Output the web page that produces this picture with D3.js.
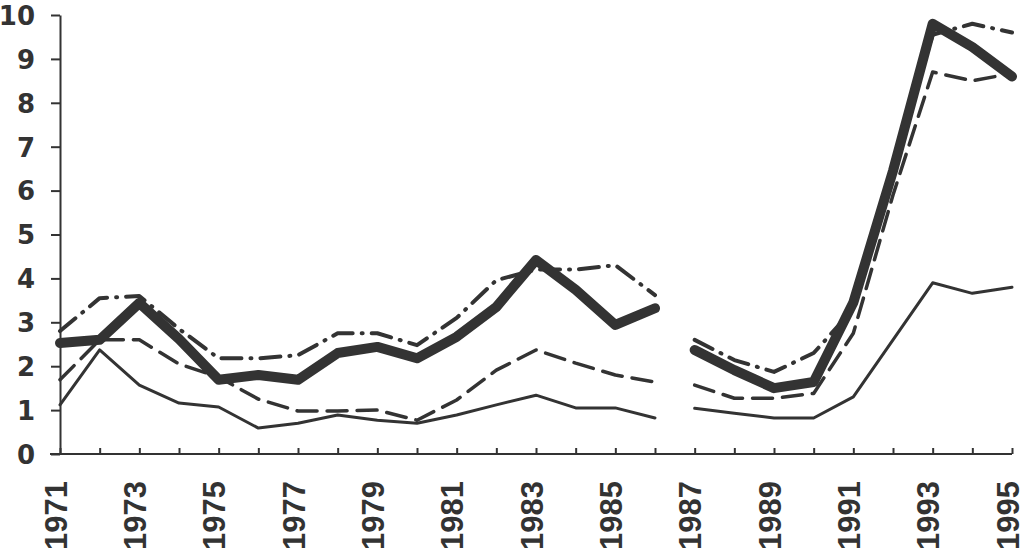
<!DOCTYPE html>
<html>
  <head>
    <meta charset='utf-8'>
    <script src='https://d3js.org/d3.v7.min.js'></script>
    <style type='text/css'>
      body { margin: 0; background: #fff; }
      .yaxis text { font: bold 26px 'DejaVu Sans', sans-serif; fill: #333; }
      .xaxis text { font: bold 31px 'Liberation Sans', Arial, sans-serif; fill: #333; }
      .axis path, .axis line { stroke: #333; stroke-width: 2; }
      .series { fill: none; stroke: #333; stroke-linejoin: round; }
    </style>
  </head>
  <body>
    <script type='text/javascript'>
      // data; the lines break between 1986 and 1987
      var years = [1971, 1972, 1973, 1974, 1975, 1976, 1977, 1978, 1979, 1980, 1981, 1982, 1983,
                   1984, 1985, 1986, 1987, 1988, 1989, 1990, 1991, 1992, 1993, 1994, 1995],
        breakAfter = 1986;

      var thickSolid = [2.53, 2.6, 3.44, 2.62, 1.69, 1.8, 1.69, 2.3, 2.44, 2.18, 2.67, 3.35, 4.42,
                        3.74, 2.94, 3.32, 2.37, 1.91, 1.5, 1.64, 3.45, 6.45, 9.8, 9.27, 8.6];
      var dashDot = [2.8, 3.55, 3.6, 2.85, 2.18, 2.18, 2.25, 2.75, 2.75, 2.48, 3.1, 3.96, 4.2,
                     4.2, 4.3, 3.62, 2.6, 2.14, 1.87, 2.3, 3.3, 6.5, 9.55, 9.8, 9.6];
      var dashed = [1.69, 2.6, 2.6, 2.05, 1.75, 1.25, 0.98, 0.98, 1.0, 0.77, 1.23, 1.91, 2.37,
                    2.07, 1.8, 1.64, 1.57, 1.27, 1.27, 1.38, 2.75, 5.9, 8.7, 8.5, 8.67];
      var thinSolid = [1.12, 2.37, 1.57, 1.16, 1.07, 0.59, 0.7, 0.89, 0.77, 0.7, 0.89, 1.12, 1.34,
                       1.05, 1.05, 0.82, 1.04, 0.93, 0.82, 0.82, 1.3, 2.6, 3.9, 3.66, 3.8];

      var yTicks = [0, 1, 2, 3, 4, 5, 6, 7, 8, 9, 10];
    </script>
    <script type='text/javascript'>
      var w = 1023,
        h = 556,
        mLeft = 60,
        mRight = 1012,
        mTop = 15,
        mBottom = 454;

      var svg = d3.select('body').append('svg')
        .attr('width', w)
        .attr('height', h);

      var x = d3.scaleLinear().domain([years[0], years[years.length - 1]]).range([mLeft, mRight]);
      var y = d3.scaleLinear().domain([0, 10]).range([mBottom, mTop]);

      //y axis, ticks pointing left
      svg.append('g')
        .attr('class', 'axis yaxis')
        .attr('transform', 'translate(' + mLeft + ',0)')
        .call(d3.axisLeft(y).tickValues(yTicks).tickSizeInner(9).tickSizeOuter(0).tickPadding(16))
        .selectAll('text').attr('dy', '0.36em');

      //x axis, small ticks pointing up, labels only on odd years
      var xAxis = svg.append('g')
        .attr('class', 'axis xaxis')
        .attr('transform', 'translate(0,' + mBottom + ')')
        .call(d3.axisBottom(x).tickValues(years).tickSizeInner(-6).tickSizeOuter(-6)
          .tickFormat(function(d) { return d % 2 == 1 ? d : ''; }));
      xAxis.select('.domain').remove();
      xAxis.append('line')
        .attr('x1', mLeft - 10).attr('x2', mRight)
        .attr('y1', 0).attr('y2', 0);
      xAxis.selectAll('.tick text')
        .attr('text-anchor', 'end')
        .attr('transform', 'translate(6,27) rotate(-90)')
        .attr('x', 0).attr('y', 0).attr('dy', 0);

      //series, split in two pieces at the break
      var series = [
        {values: thinSolid, width: 3, dash: null},
        {values: dashed, width: 3.5, dash: '20 10'},
        {values: dashDot, width: 4, dash: '20 9 1 9'},
        {values: thickSolid, width: 10, dash: null}
      ];

      var line = d3.line()
        .x(function(d) { return x(d.year); })
        .y(function(d) { return y(d.value); });

      series.forEach(function(s) {
        var pts = years.map(function(yr, i) { return {year: yr, value: s.values[i]}; });
        var parts = [pts.filter(function(d) { return d.year <= breakAfter; }),
                     pts.filter(function(d) { return d.year > breakAfter; })];
        svg.selectAll(null).data(parts).enter().append('path')
          .attr('class', 'series')
          .attr('d', line)
          .attr('stroke-width', s.width)
          .attr('stroke-linecap', 'round')
          .attr('stroke-dasharray', s.dash);
      });
    </script>
  </body>
</html>
